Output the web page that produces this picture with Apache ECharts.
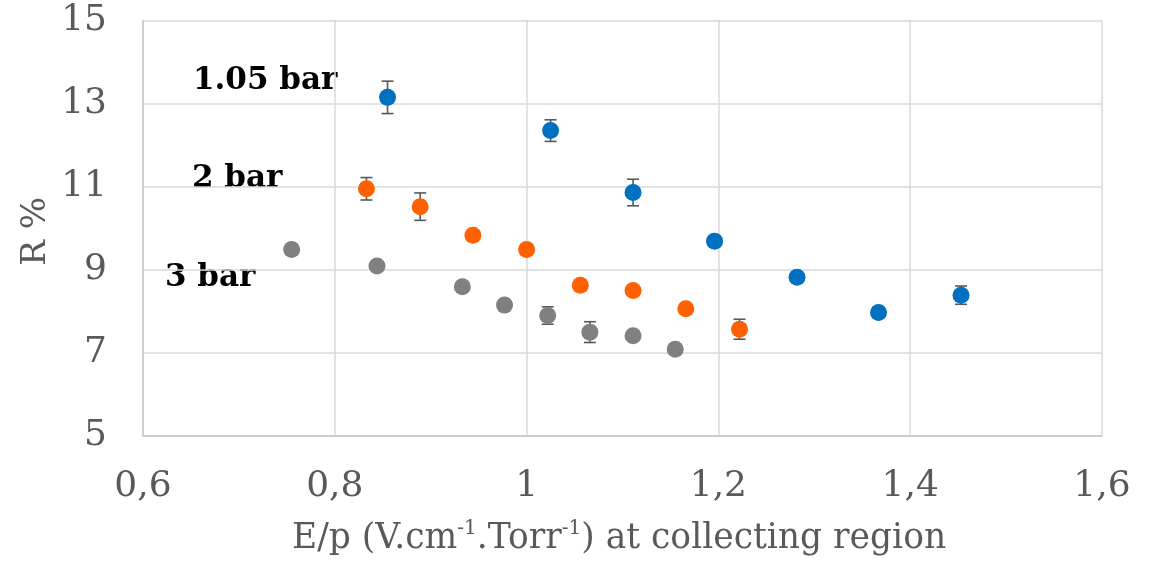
<!DOCTYPE html>
<html>
<head>
<meta charset="utf-8">
<script src="https://cdn.jsdelivr.net/npm/echarts@6/dist/echarts.min.js"></script>
<style>
  html, body { margin: 0; padding: 0; background: #ffffff; }
  #chart { width: 1156px; height: 563px; }
</style>
</head>
<body>
<div id="chart"></div>
<script>
// Energy resolution R (%) versus reduced field E/p at three pressures
const xBlue   = [0.855, 1.025, 1.111, 1.196, 1.282, 1.367, 1.453];
const yBlue   = [13.15, 12.35, 10.86, 9.69, 8.82, 7.97, 8.39];
const eBlue   = [0.39, 0.26, 0.32, 0.12, 0.12, 0.12, 0.22];

const xOrange = [0.833, 0.889, 0.944, 1.000, 1.056, 1.111, 1.166, 1.222];
const yOrange = [10.95, 10.52, 9.83, 9.49, 8.63, 8.50, 8.06, 7.57];
const eOrange = [0.27, 0.33, 0.12, 0.12, 0.12, 0.12, 0.12, 0.24];

const xGray   = [0.755, 0.844, 0.933, 0.977, 1.022, 1.066, 1.111, 1.155];
const yGray   = [9.49, 9.09, 8.59, 8.15, 7.90, 7.50, 7.41, 7.09];
const eGray   = [0.12, 0.12, 0.12, 0.12, 0.21, 0.25, 0.12, 0.12];

const xTickLabels = ['0,6', '0,8', '1', '1,2', '1,4', '1,6'];
const yTickLabels = ['5', '7', '9', '11', '13', '15'];
const seriesNames = ['1.05 bar', '2 bar', '3 bar'];

const colors = ['#0070C0', '#FF6000', '#808080'];
const FONT = 'DejaVu Serif';

function points(xs, ys) { return xs.map((x, i) => [x, ys[i]]); }
function errs(xs, ys, es) { return xs.map((x, i) => [x, ys[i], es[i]]); }

// vertical error bar with caps, drawn beneath the markers
function renderError(params, api) {
  const x = api.value(0), y = api.value(1), e = api.value(2);
  const top = api.coord([x, y + e]);
  const bot = api.coord([x, y - e]);
  const cap = 6;
  const style = { stroke: '#595959', lineWidth: 1.6 };
  return {
    type: 'group',
    children: [
      { type: 'line', shape: { x1: top[0], y1: top[1], x2: bot[0], y2: bot[1] }, style },
      { type: 'line', shape: { x1: top[0] - cap, y1: top[1], x2: top[0] + cap, y2: top[1] }, style },
      { type: 'line', shape: { x1: bot[0] - cap, y1: bot[1], x2: bot[0] + cap, y2: bot[1] }, style }
    ]
  };
}

const sets = [
  [xBlue, yBlue, eBlue],
  [xOrange, yOrange, eOrange],
  [xGray, yGray, eGray]
];

const series = [];
sets.forEach((s) => {
  series.push({
    type: 'custom',
    renderItem: renderError,
    data: errs(s[0], s[1], s[2]),
    z: 1,
    silent: true
  });
});
sets.forEach((s, k) => {
  series.push({
    name: seriesNames[k],
    type: 'scatter',
    data: points(s[0], s[1]),
    symbol: 'circle',
    symbolSize: 17,
    itemStyle: { color: colors[k], opacity: 1 },
    z: 2
  });
});

const chart = echarts.init(document.getElementById('chart'), null, { renderer: 'canvas' });

chart.setOption({
  animation: false,
  backgroundColor: '#ffffff',
  grid: { left: 143, right: 54, top: 20.5, bottom: 127, containLabel: false },
  xAxis: {
    type: 'value',
    min: 0.6, max: 1.6, interval: 0.2,
    axisLine: { show: true, lineStyle: { color: '#c8c8c8', width: 1.5 } },
    axisTick: { show: false },
    splitLine: { show: true, lineStyle: { color: '#d9d9d9', width: 1.5 } },
    axisLabel: {
      margin: 33,
      color: '#595959',
      fontFamily: FONT,
      fontSize: 36,
      formatter: v => xTickLabels[Math.round((v - 0.6) / 0.2)]
    }
  },
  yAxis: {
    type: 'value',
    min: 5, max: 15, interval: 2,
    axisLine: { show: true, lineStyle: { color: '#c8c8c8', width: 1.5 } },
    axisTick: { show: false },
    splitLine: { show: true, lineStyle: { color: '#d9d9d9', width: 1.5 } },
    axisLabel: {
      margin: 36,
      color: '#595959',
      fontFamily: FONT,
      fontSize: 36,
      formatter: v => yTickLabels[Math.round((v - 5) / 2)]
    }
  },
  series: series,
  graphic: [
    {
      type: 'text', left: 193, top: 65,
      style: { text: seriesNames[0], font: 'bold 31px "DejaVu Serif"', fill: '#000000' }
    },
    {
      type: 'text', left: 192, top: 163,
      style: { text: seriesNames[1], font: 'bold 31px "DejaVu Serif"', fill: '#000000' }
    },
    {
      type: 'text', left: 165, top: 262,
      style: { text: seriesNames[2], font: 'bold 31px "DejaVu Serif"', fill: '#000000' }
    },
    {
      type: 'text', left: 19, top: 197, rotation: Math.PI / 2,
      style: { text: 'R %', font: '34px "DejaVu Serif"', fill: '#595959' }
    },
    {
      type: 'text', left: 292, top: 519,
      style: {
        text: 'E/p (V.cm{s|-1}.Torr{s|-1}) at collecting region',
        font: '34.5px "DejaVu Serif"',
        fill: '#595959',
        rich: {
          s: { fontSize: 20, fontFamily: FONT, fill: '#595959', verticalAlign: 'top', lineHeight: 40 }
        }
      }
    }
  ]
});
</script>
</body>
</html>
